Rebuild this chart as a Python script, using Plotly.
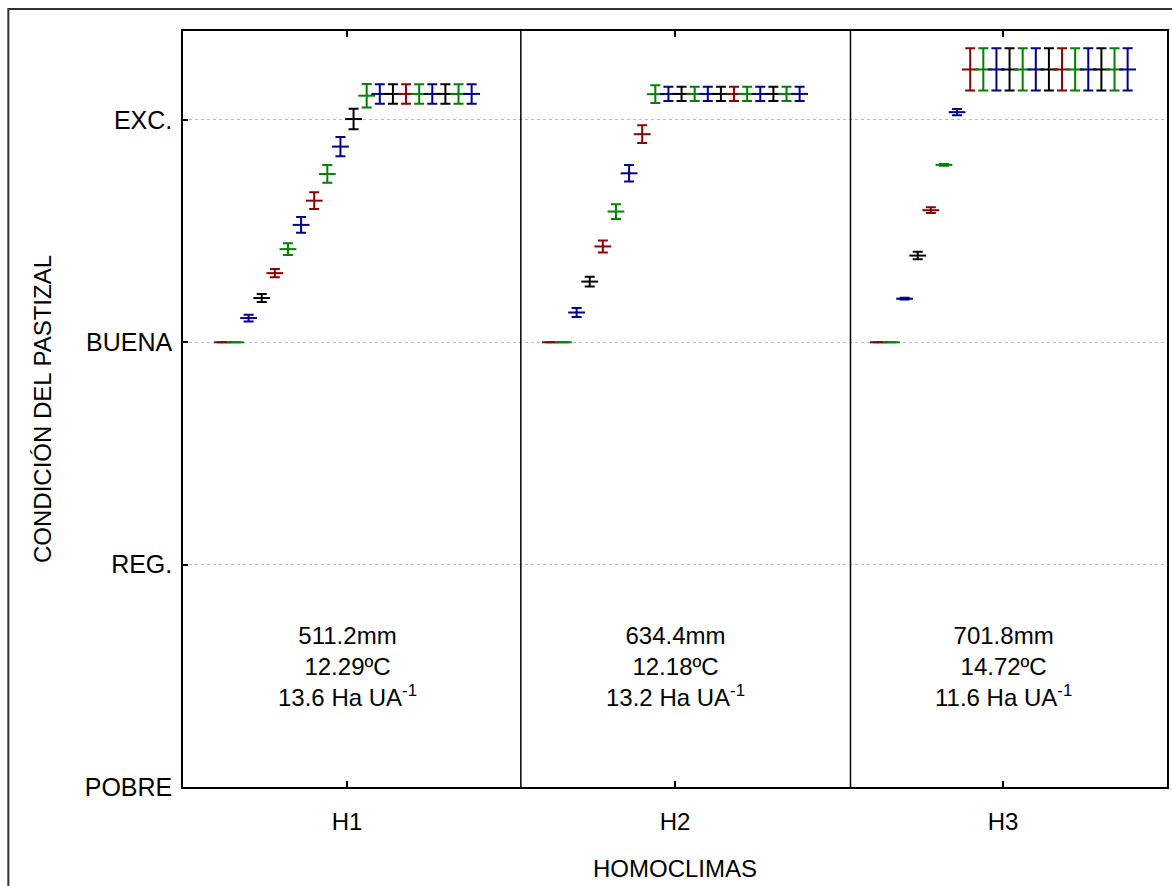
import plotly.graph_objects as go

# ---------------- data ----------------
homoclimas = ["H1", "H2", "H3"]
condition_ticks = [1, 2, 3, 4]
condition_labels = ["POBRE", "REG.", "BUENA", "EXC."]
# separators between homoclima panels (category-axis units, as in the original)
separator_positions = [0.53, 1.535]

series_names = [f"Serie {i}" for i in range(1, 21)]
series_colors = ["#8B0000", "#008000", "#00008B", "#000000",
                 "#8B0000", "#008000", "#00008B", "#8B0000",
                 "#008000", "#00008B", "#000000", "#008000",
                 "#00008B", "#000000", "#8B0000", "#008000",
                 "#00008B", "#000000", "#008000", "#00008B"]

h1_mean = [3.000, 3.000, 3.109, 3.199, 3.311, 3.419, 3.528, 3.637, 3.757, 3.880,
           4.004, 4.109, 4.117, 4.117, 4.117, 4.117, 4.117, 4.117, 4.117, 4.117]
h1_err = [0.000, 0.000, 0.015, 0.018, 0.019, 0.026, 0.035, 0.038, 0.040, 0.043,
          0.046, 0.053, 0.044, 0.044, 0.044, 0.044, 0.044, 0.044, 0.044, 0.044]

h2_mean = [3.000, 3.000, 3.134, 3.273, 3.431, 3.588, 3.760, 3.936, 4.116, 4.117,
           4.117, 4.117, 4.117, 4.117, 4.117, 4.117, 4.117, 4.117, 4.117, 4.117]
h2_err = [0.000, 0.000, 0.020, 0.022, 0.027, 0.033, 0.037, 0.040, 0.040, 0.032,
          0.032, 0.032, 0.032, 0.032, 0.032, 0.032, 0.032, 0.032, 0.032, 0.032]

h3_mean = [3.000, 3.000, 3.196, 3.390, 3.594, 3.798, 4.035, 4.227, 4.227, 4.227,
           4.227, 4.227, 4.227, 4.227, 4.227, 4.227, 4.227, 4.227, 4.227, 4.227]
h3_err = [0.000, 0.000, 0.004, 0.017, 0.013, 0.004, 0.014, 0.095, 0.095, 0.095,
          0.095, 0.095, 0.095, 0.095, 0.095, 0.095, 0.095, 0.095, 0.095, 0.095]

climate_notes = [
    "511.2mm<br>12.29ºC<br>13.6 Ha UA<sup>-1</sup>",
    "634.4mm<br>12.18ºC<br>13.2 Ha UA<sup>-1</sup>",
    "701.8mm<br>14.72ºC<br>11.6 Ha UA<sup>-1</sup>",
]

# ---------------- figure ----------------
FONT = "Liberation Sans, Arial, Helvetica, sans-serif"
FS = 25
fig = go.Figure()

for i, name in enumerate(series_names):
    col = series_colors[i]
    fig.add_trace(go.Scatter(
        x=homoclimas,
        y=[h1_mean[i], h2_mean[i], h3_mean[i]],
        name=name,
        mode="markers",
        marker=dict(symbol="line-ew", size=12, color=col,
                    line=dict(color=col, width=2)),
        error_y=dict(type="data", array=[h1_err[i], h2_err[i], h3_err[i]],
                     color=col, thickness=2, width=5),
        showlegend=False,
    ))

# vertical separators between homoclimas
for xs in separator_positions:
    fig.add_shape(type="line", xref="x", yref="paper",
                  x0=xs, x1=xs, y0=0, y1=1,
                  line=dict(color="black", width=1.5), layer="above")

# climate notes
for cat, txt in zip(homoclimas, climate_notes):
    fig.add_annotation(x=cat, y=1.54, xref="x", yref="y", text=txt,
                       showarrow=False, xanchor="center", yanchor="middle",
                       font=dict(family=FONT, size=FS - 1, color="black"))

# outer frame
fig.add_shape(type="rect", xref="paper", yref="paper",
              x0=-0.1775, x1=1.01, y0=-0.14, y1=1.029,
              line=dict(color="#333333", width=2), fillcolor="rgba(0,0,0,0)",
              layer="below")

fig.update_layout(
    width=1172, height=886,
    margin=dict(l=183, r=3, t=31, b=99),
    paper_bgcolor="white", plot_bgcolor="white",
    scattermode="group", scattergap=0.2,
    font=dict(family=FONT, size=FS, color="black"),
    showlegend=False,
)

fig.update_xaxes(
    type="category", categoryorder="array", categoryarray=homoclimas,
    range=[-0.5, len(homoclimas) - 0.5],
    showline=True, linecolor="black", linewidth=1.5, mirror="ticks",
    ticks="inside", ticklen=6, tickcolor="black", tickwidth=1.5,
    showgrid=False, zeroline=False,
    tickfont=dict(family=FONT, size=FS - 1),
    ticklabelstandoff=12,
    title=dict(text="HOMOCLIMAS", font=dict(family=FONT, size=FS - 1), standoff=27),
)

fig.update_yaxes(
    range=[1, 4.40],
    tickvals=condition_ticks, ticktext=condition_labels,
    showline=True, linecolor="black", linewidth=1.5, mirror=True,
    ticks="inside", ticklen=5, tickcolor="black", tickwidth=1.5,
    showgrid=True, gridcolor="#bbbbbb", griddash="dot", gridwidth=1,
    zeroline=False,
    tickfont=dict(family=FONT, size=FS),
    ticklabelstandoff=4,
    title=dict(text="CONDICIÓN DEL PASTIZAL", font=dict(family=FONT, size=FS - 1), standoff=26),
)

fig.write_html("out.html",
               config={"displayModeBar": False},
               post_script="document.body.style.margin='0px';")
